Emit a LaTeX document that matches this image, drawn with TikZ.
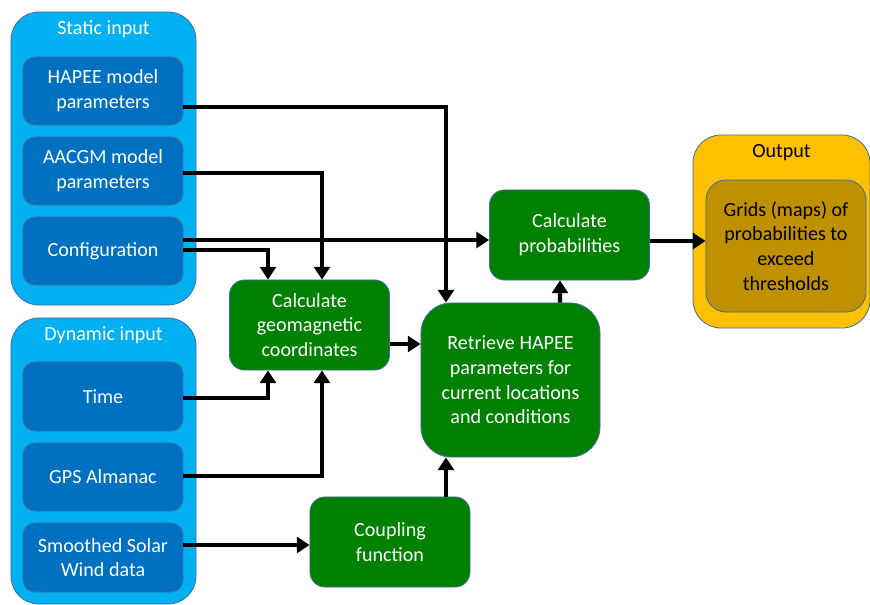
\documentclass[tikz,border=0pt]{standalone}
\usepackage{fontspec}
\setmainfont{Carlito}
\usepackage{tikz}
\usetikzlibrary{arrows.meta,positioning,calc}
\definecolor{skyblue}{RGB}{0,176,240}
\definecolor{boxblue}{RGB}{0,112,192}
\definecolor{stepgreen}{RGB}{0,128,0}
\definecolor{outyellow}{RGB}{255,192,0}
\definecolor{outbrown}{RGB}{191,144,0}
\definecolor{edgeblue}{RGB}{65,113,156}
\tikzstyle{group} = [rectangle, rounded corners=0.7cm, draw=edgeblue, fill=skyblue, line width=0.6pt, minimum width=4.625cm]
\tikzstyle{inbox} = [rectangle, rounded corners=0.3cm, minimum width=4cm, align=center, draw=edgeblue, fill=boxblue, text=white, line width=0.6pt]
\tikzstyle{procbox} = [rectangle, rounded corners=0.375cm, minimum width=4cm, minimum height=2.25cm, align=center, draw=edgeblue, fill=stepgreen, text=white, line width=0.6pt]
\tikzstyle{arrow} = [line width=3.1pt, -{Triangle[length=0.32cm,width=0.4cm]}]

\begin{document}
\begin{tikzpicture}[x=0.025cm, y=-0.025cm, font=\fontsize{14.3pt}{17.6pt}\selectfont]
\useasboundingbox (0,0) rectangle (870,605);
% Static input
\node[group, minimum height=7.325cm] (static) at (103.5,158.5) {};
\node[text=white] (statictitle) at (103.5,29) {Static input};
\node[inbox, minimum height=1.7cm] (hapee) at (103,91) {HAPEE model\\parameters};
\node[inbox, minimum height=1.7cm] (aacgm) at (103,171) {AACGM model\\parameters};
\node[inbox, minimum height=1.7cm] (config) at (103,251) {Configuration};

% Dynamic input
\node[group, minimum height=7.15cm] (dynamic) at (103.5,461) {};
\node[text=white] (dyntitle) at (103.5,335) {Dynamic input};
\node[inbox, minimum height=1.725cm] (time) at (103,396.5) {Time};
\node[inbox, minimum height=1.7cm] (gps) at (103,477) {GPS Almanac};
\node[inbox, minimum height=1.725cm] (solar) at (103,557.5) {Smoothed Solar\\Wind data};

% Processing
\node[procbox] (geomag) at (309.5,325) {Calculate\\geomagnetic\\coordinates};
\node[procbox, rounded corners=0.75cm, minimum width=4.475cm, minimum height=3.85cm] (retrieve) at (510.5,380) {Retrieve HAPEE\\parameters for\\current locations\\and conditions};
\node[procbox] (coupling) at (390,542) {Coupling\\function};
\node[procbox] (prob) at (569.5,235) {Calculate\\probabilities};

% Output
\node[group, fill=outyellow, minimum width=4.425cm, minimum height=4.825cm] (output) at (781.5,231.5) {};
\node (outtitle) at (781.5,153) {Output};
\node[inbox, rounded corners=0.5cm, fill=outbrown, text=black, minimum height=3.3cm] (grids) at (786,246) {Grids (maps) of\\probabilities to\\exceed\\thresholds};

\draw[arrow] ($(hapee.east)+(0,16)$) -| ($(retrieve.north)+(-64.5,0)$);
\draw[arrow] ($(aacgm.east)+(0,2)$) -| ($(geomag.north)+(12.5,0)$);
\draw[arrow] ($(config.east)+(0,-11)$) -- ($(prob.west)+(0,5)$);
\draw[arrow] ($(config.east)+(0,-1)$) -| ($(geomag.north)+(-41.5,0)$);
\draw[arrow] ($(time.east)+(0,1.5)$) -| ($(geomag.south)+(-41.5,0)$);
\draw[arrow] ($(gps.east)+(0,-1)$) -| ($(geomag.south)+(12.5,0)$);
\draw[arrow] ($(solar.east)+(0,-12.5)$) -- ($(coupling.west)+(0,3)$);
\draw[arrow] ($(geomag.east)+(0,19)$) -- ($(retrieve.west)+(0,-36)$);
\draw[arrow] ($(coupling.north)+(56,0)$) -- ($(retrieve.south)+(-64.5,0)$);
\draw[arrow] ($(retrieve.north)+(49.5,0)$) -- ($(prob.south)+(-9.5,0)$);
\draw[arrow] ($(prob.east)+(0,6)$) -- ($(grids.west)+(0,-5)$);
\end{tikzpicture}
\end{document}
